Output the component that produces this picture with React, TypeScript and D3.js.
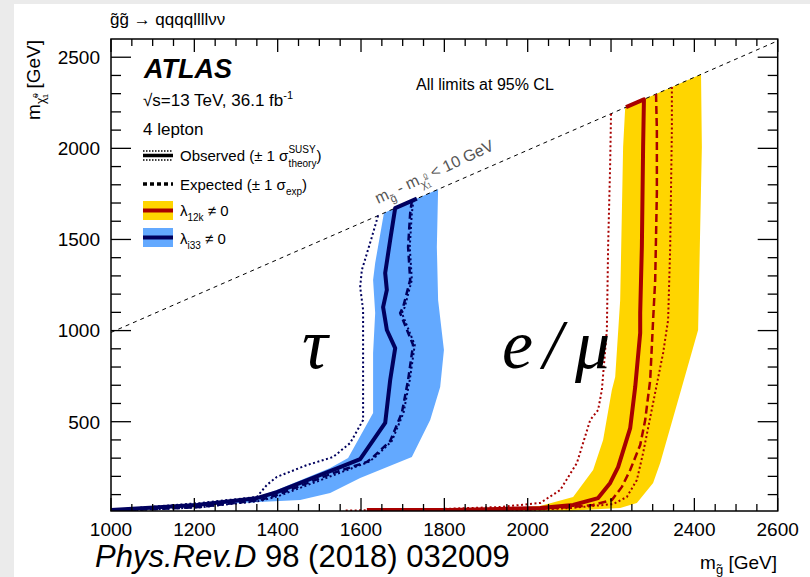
import * as d3 from "d3";
import React from "react";

// [m(gluino), m(neutralino)] in GeV
const blueBandLeft: [number, number][] = [[1655, 1645], [1634, 1371], [1629, 1277], [1634, 1096], [1629, 877], [1629, 548], [1569, 301], [1526, 246], [1398, 125], [1350, 87], [1214, 54], [1000, 15]];
const blueBandRight: [number, number][] = [[1785, 1775], [1782, 1459], [1785, 1168], [1799, 893], [1790, 690], [1766, 509], [1722, 306], [1598, 191], [1526, 109], [1454, 70], [1214, 43], [1000, 10]];
const blueObs: [number, number][] = [[1734, 1724], [1682, 1672], [1670, 1497], [1658, 1316], [1662, 1223], [1653, 1129], [1662, 1003], [1682, 904], [1670, 729], [1658, 493], [1598, 295], [1550, 251], [1398, 114], [1350, 81], [1206, 43], [1000, 15]];
const blueExp: [number, number][] = [[1722, 1712], [1718, 1645], [1713, 1459], [1718, 1278], [1701, 1129], [1694, 1096], [1725, 921], [1713, 729], [1698, 548], [1670, 394], [1629, 306], [1614, 279], [1533, 218], [1398, 98], [1358, 70], [1214, 32], [1000, 10]];
const blueObsDown: [number, number][] = [[1641, 1631], [1626, 1513], [1602, 1332], [1598, 1239], [1605, 1113], [1605, 965], [1605, 784], [1605, 509], [1574, 383], [1533, 306], [1470, 262], [1398, 197], [1374, 153], [1350, 87], [1214, 54], [1000, 15]];
const blueObsUp: [number, number][] = [[1726, 1716], [1722, 1645], [1717, 1459], [1722, 1278], [1705, 1129], [1698, 1096], [1729, 921], [1717, 729], [1702, 548], [1674, 394], [1634, 306], [1618, 279], [1538, 210], [1402, 92], [1360, 66], [1214, 30], [1000, 10]];

const yellowBandLeft: [number, number][] = [[2234, 2224], [2229, 2007], [2226, 1645], [2222, 1168], [2210, 745], [2202, 674], [2181, 400], [2157, 235], [2109, 87], [2030, 37], [1934, 21], [1850, 10]];
const yellowBandRight: [number, number][] = [[2416, 2406], [2418, 2007], [2409, 1003], [2366, 657], [2318, 273], [2301, 164], [2262, 54], [2222, 26], [2100, 12], [1850, 10]];
const redObs: [number, number][] = [[2236, 2226], [2279, 2269], [2277, 2007], [2274, 1459], [2270, 1096], [2270, 987], [2258, 690], [2246, 465], [2217, 251], [2198, 164], [2169, 81], [2109, 43], [2030, 26], [1814, 16], [1614, 15]];
const redExp: [number, number][] = [[2308, 2298], [2310, 2100], [2310, 1755], [2306, 1278], [2301, 1058], [2294, 729], [2282, 509], [2270, 372], [2246, 235], [2226, 142], [2202, 70], [2157, 43], [2109, 32], [2030, 21], [1700, 12]];
const redObsDown: [number, number][] = [[2200, 2190], [2198, 1919], [2193, 1459], [2190, 1003], [2178, 674], [2169, 564], [2150, 509], [2118, 273], [2078, 125], [2030, 54], [1934, 32], [1790, 21], [1557, 12]];
const redObsUp: [number, number][] = [[2346, 2336], [2346, 2100], [2342, 1459], [2337, 1058], [2325, 877], [2301, 603], [2277, 328], [2262, 180], [2238, 87], [2205, 48], [2102, 26], [2000, 15], [1750, 12]];

const xTicks = [1000, 1200, 1400, 1600, 1800, 2000, 2200, 2400, 2600];
const yTicks = [500, 1000, 1500, 2000, 2500];

const FONT = "'Liberation Sans', Arial, Helvetica, sans-serif";
const SERIF = "'Liberation Serif', 'Times New Roman', serif";
const NAVY = "#00005e";
const DARKRED = "#a80000";
const LIGHTBLUE = "#63a9ff";
const GOLD = "#ffd500";

const App = () => {
  const left = 111, right = 777.7, top = 39, bottom = 511;
  const x = d3.scaleLinear().domain([1000, 2600]).range([left, right]);
  const y = d3.scaleLinear().domain([10, 2600]).range([bottom, top]);
  const line = d3.line<[number, number]>().x((d) => x(d[0])).y((d) => y(d[1]));
  const band = (l: [number, number][], r: [number, number][]) =>
    line([...l, ...r.slice().reverse()]) + "Z";

  const xMinor = d3.range(1000, 2601, 50).filter((v) => v % 200 !== 0);
  const yMinor = d3.range(100, 2600, 100).filter((v) => v % 500 !== 0);
  const diag: [number, number][] = [[1000, 990], [2600, 2590]];

  return (
    <svg width={810} height={577} style={{ position: "absolute", left: 0, top: 0 }} fontFamily={FONT}>
      <rect x={0} y={0} width={810} height={577} fill="#ebebeb" />
      <rect x={14} y={4} width={796} height={573} fill="#fff" />
      <defs>
        <clipPath id="plot">
          <rect x={left} y={top} width={right - left} height={bottom - top} />
        </clipPath>
      </defs>

      <g clipPath="url(#plot)">
        <path d={band(blueBandLeft, blueBandRight)} fill={LIGHTBLUE} />
        <path d={band(yellowBandLeft, yellowBandRight)} fill={GOLD} />
        <path d={line(diag)!} fill="none" stroke="#000" strokeWidth={1} strokeDasharray="4,4" />

        <path d={line(blueObsDown)!} fill="none" stroke={NAVY} strokeWidth={2} strokeDasharray="2,2.5" />
        <path d={line(blueObsUp)!} fill="none" stroke={NAVY} strokeWidth={2} strokeDasharray="2,2.5" />
        <path d={line(blueExp)!} fill="none" stroke={NAVY} strokeWidth={2.5} strokeDasharray="7,4" />
        <path d={line(blueObs)!} fill="none" stroke={NAVY} strokeWidth={4} strokeLinejoin="round" />

        <path d={line(redObsDown)!} fill="none" stroke={DARKRED} strokeWidth={2} strokeDasharray="2,2.5" />
        <path d={line(redObsUp)!} fill="none" stroke={DARKRED} strokeWidth={2} strokeDasharray="2,2.5" />
        <path d={line(redExp)!} fill="none" stroke={DARKRED} strokeWidth={2.5} strokeDasharray="8,4" />
        <path d={line(redObs)!} fill="none" stroke={DARKRED} strokeWidth={4} strokeLinejoin="round" />
      </g>

      {/* axes frame and ticks */}
      <rect x={left} y={top} width={right - left} height={bottom - top} fill="none" stroke="#000" strokeWidth={1.5} />
      {xTicks.map((v) => (
        <g key={"xt" + v}>
          <line x1={x(v)} x2={x(v)} y1={bottom} y2={bottom - 13} stroke="#000" strokeWidth={1.3} />
          <line x1={x(v)} x2={x(v)} y1={top} y2={top + 13} stroke="#000" strokeWidth={1.3} />
          <text x={x(v)} y={536} textAnchor="middle" fontSize={19}>{v}</text>
        </g>
      ))}
      {xMinor.map((v) => (
        <g key={"xm" + v}>
          <line x1={x(v)} x2={x(v)} y1={bottom} y2={bottom - 7} stroke="#000" strokeWidth={1.3} />
          <line x1={x(v)} x2={x(v)} y1={top} y2={top + 7} stroke="#000" strokeWidth={1.3} />
        </g>
      ))}
      {yTicks.map((v) => (
        <g key={"yt" + v}>
          <line x1={left} x2={left + 20} y1={y(v)} y2={y(v)} stroke="#000" strokeWidth={1.3} />
          <line x1={right} x2={right - 20} y1={y(v)} y2={y(v)} stroke="#000" strokeWidth={1.3} />
          <text x={100} y={y(v)} dy="0.36em" textAnchor="end" fontSize={19}>{v}</text>
        </g>
      ))}
      {yMinor.map((v) => (
        <g key={"ym" + v}>
          <line x1={left} x2={left + 10} y1={y(v)} y2={y(v)} stroke="#000" strokeWidth={1.3} />
          <line x1={right} x2={right - 10} y1={y(v)} y2={y(v)} stroke="#000" strokeWidth={1.3} />
        </g>
      ))}

      {/* axis titles */}
      <text x={777} y={569} textAnchor="end" fontSize={19}>
        m<tspan dy={5} fontSize={13}>g̃</tspan><tspan dy={-5}> [GeV]</tspan>
      </text>
      <text transform="translate(40,40) rotate(-90)" textAnchor="end" fontSize={19}>
        m<tspan dy={5} fontSize={12}>χ̃</tspan><tspan dy={-7} fontSize={8}>0</tspan><tspan dx={-5} dy={10} fontSize={8}>1</tspan><tspan dy={-8}> [GeV]</tspan>
      </text>
      <text x={110} y={25} fontSize={17}>g̃g̃ → qqqqllllνν</text>

      {/* labels */}
      <text x={144} y={78} fontSize={27} fontWeight="bold" fontStyle="italic">ATLAS</text>
      <text x={143} y={106} fontSize={17}>
        √s=13 TeV, 36.1 fb<tspan dy={-7} fontSize={11}>-1</tspan>
      </text>
      <text x={143} y={135} fontSize={17}>4 lepton</text>

      <line x1={143} x2={173} y1={151} y2={151} stroke="#000" strokeWidth={1.5} strokeDasharray="1.5,1.5" />
      <line x1={143} x2={173} y1={155.5} y2={155.5} stroke="#000" strokeWidth={3.5} />
      <line x1={143} x2={173} y1={160} y2={160} stroke="#000" strokeWidth={1.5} strokeDasharray="1.5,1.5" />
      <text x={180} y={161} fontSize={15}>
        Observed (± 1 σ<tspan dy={-8} fontSize={10}>SUSY</tspan><tspan dx={-27} dy={14} fontSize={10}>theory</tspan><tspan dy={-6}>)</tspan>
      </text>

      <line x1={143} x2={173} y1={184} y2={184} stroke="#000" strokeWidth={3.5} strokeDasharray="4,3" />
      <text x={180} y={190} fontSize={15}>
        Expected (± 1 σ<tspan dy={5} fontSize={10}>exp</tspan><tspan dy={-5}>)</tspan>
      </text>

      <rect x={143} y={201} width={30} height={19} fill={GOLD} />
      <line x1={143} x2={173} y1={210.5} y2={210.5} stroke={DARKRED} strokeWidth={4} />
      <text x={180} y={216} fontSize={15}>
        λ<tspan dy={5} fontSize={10}>12k</tspan><tspan dy={-5}> ≠ 0</tspan>
      </text>
      <rect x={143} y={228} width={30} height={19} fill={LIGHTBLUE} />
      <line x1={143} x2={173} y1={237.5} y2={237.5} stroke={NAVY} strokeWidth={4} />
      <text x={180} y={244} fontSize={15}>
        λ<tspan dy={5} fontSize={10}>i33</tspan><tspan dy={-5}> ≠ 0</tspan>
      </text>

      <text x={416} y={90} fontSize={16}>All limits at 95% CL</text>

      <text transform="translate(378,204) rotate(-25)" fontSize={16} fill="#555">
        m<tspan dy={5} fontSize={11}>g̃</tspan><tspan dy={-5}> - m</tspan><tspan dy={5} fontSize={11}>χ̃</tspan><tspan dy={-8} fontSize={7}>0</tspan><tspan dx={-4} dy={10} fontSize={7}>1</tspan><tspan dy={-7}> &lt; 10 GeV</tspan>
      </text>

      <text x={302} y={368} fontFamily={SERIF} fontStyle="italic" fontSize={72}>τ</text>
      <text y={368} fontFamily={SERIF} fontStyle="italic" fontSize={70}>
        <tspan x={502}>e</tspan><tspan x={543}>/</tspan><tspan x={575}>μ</tspan>
      </text>

      <text x={95} y={567} fontSize={31}>
        <tspan fontStyle="italic">Phys.Rev.D</tspan> 98 (2018) 032009
      </text>
    </svg>
  );
};

export default App;
